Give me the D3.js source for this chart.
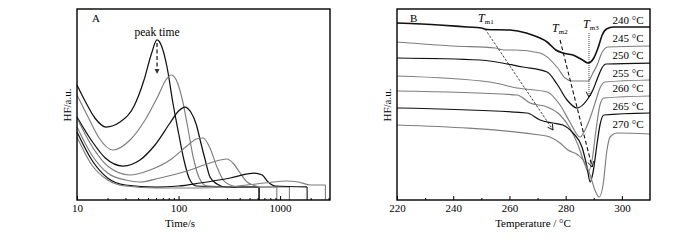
<!DOCTYPE html>
<html>
<head>
<meta charset="utf-8">
<script src="https://cdn.jsdelivr.net/npm/d3@7"></script>
<style>
  body { margin: 0; background: #fff; }
  text { font-family: "Liberation Serif", "Times New Roman", serif; fill: #000; }
</style>
</head>
<body>
<div id="chart"></div>
<script>
// ---- panel A: isothermal heat flow vs time (log scale), one curve per Tc
var curveA1 = [[10,115],[12,99],[15,82],[19.3,73],[26.5,78],[36.5,94],[45.7,120],[54,146],[61.4,160],[68,154],[77,133],[88,97],[100,67],[113,40],[128,21],[150,14],[621,13]]
var curveA2 = [[10,105],[13,82],[16.5,62],[22.6,50],[33.3,60],[46.8,80],[62.8,104],[75,120],[84.5,125],[95,120],[108,102],[122,75],[140,42],[160,22],[190,14],[621,13]]
var curveA3 = [[10,83],[14,59],[19,42],[28.4,34],[41.7,40],[58.6,55],[82.4,77],[100,89],[115.5,93],[132,88],[150,75],[165,58],[183,40],[204,23],[239,16],[290,13],[621,13]]
var curveA4 = [[10,82],[14,54],[20,34],[33,25],[52.4,30],[82.4,40],[121,54],[150,61],[174,62],[204,52],[239,33],[275,20],[322,15],[400,13],[928,13]]
var curveA5 = [[10,73],[14,45],[20,27],[30,20],[41.7,18],[65.8,22],[130,30],[204,37],[300,41],[343,37],[404,27],[473,18],[541,15],[650,13],[1235,13]]
var curveA6 = [[10,68],[14,40],[20,22],[30,15],[60,13],[100,14],[163,17],[323,22],[554,27],[666,25],[763,18],[891,14],[1845,13]]
var curveA7 = [[10,63],[14,35],[20,20],[30,14],[60,12],[150,12],[300,13],[700,17],[1170,19],[1500,18],[2000,15],[2794,15]]
var colorsA = ['black', 'gray', 'black', 'gray', 'gray', 'black', 'gray']
var timeTicks = [10, 100, 1000]
var timeMinor = [20,30,40,50,60,70,80,90,200,300,400,500,600,700,800,900,2000,3000]
var peakTime = 61.4

// ---- panel B: melting curves after crystallization at Tc
var tcLabels = ['240 °C', '245 °C', '250 °C', '255 °C', '260 °C', '265 °C', '270 °C']
var curveB240 = [[220,177],[235,175],[245,173],[250,172],[252,170.5],[260,170],[266,167],[270,163],[273.4,158],[276.5,150],[279,147],[282.6,145],[286,140],[288,137],[290,142],[291.5,152],[293,165],[294.5,171],[297,173],[310,173]]
var curveB245 = [[220,158],[240,154],[255,152],[258,150],[262,150],[270.9,147],[276.9,133],[279.8,122],[282.3,119],[288,119],[289.7,127],[291.5,137],[292.5,145],[293.5,150],[295,153],[310,154]]
var curveB250 = [[220,142],[249.5,140],[264.8,133],[273.4,128],[276.9,116],[280.5,100],[284,92],[287.6,100],[289.7,110],[291.5,123],[292.9,132],[294.4,136],[310,137]]
var curveB255 = [[220,124],[253,118],[262.7,112],[273.4,108],[278,95],[281.5,78],[285.1,63],[286.9,70],[288.7,82],[290.8,100],[292.2,112],[294,118],[310,120]]
var curveB260 = [[220,109],[262.7,105],[267.3,97],[273.4,93],[278,85],[281.5,72],[284.4,55],[286.9,35],[288,28],[289.4,40],[290.8,70],[292.2,95],[293.6,102],[310,104]]
var curveB265 = [[220,92],[266.2,87],[270.9,80],[275.5,77],[279,75],[282.6,67],[285.8,53],[287.6,33],[288.7,18],[289.7,27],[291.2,57],[292.2,75],[293.6,85],[310,87]]
var curveB270 = [[220,75],[270.9,65],[274.4,63],[278,57],[280.8,50],[284.4,45],[286.2,40],[288.7,25],[290.4,10],[291.9,3],[293.3,15],[294.7,50],[295.8,63],[298.3,67],[310,66]]
var colorsB = ['black', 'gray', 'black', 'gray', 'gray', 'black', 'gray']
var labelY = [180, 162, 145, 127, 112, 94, 76]
var tempTicks = [220, 240, 260, 280, 300]
var tempMinor = [230, 250, 270, 290]
// marker lines [T, HF] start -> end
var tm1 = [[251.3,171],[275.5,70]]
var tm2 = [[278,160],[289.4,33]]
var tm3 = [[288.3,167],[288.3,103]]

var gray = '#7d7d7d'
var width = 700, height = 240

var svg = d3.select('#chart').append('svg')
  .attr('width', width).attr('height', height)

var xA = d3.scaleLog().domain([10, 3100]).range([77, 330])
var xB = d3.scaleLinear().domain([220, 310]).range([397, 650])
var y = d3.scaleLinear().domain([0, 191]).range([200, 9])

function col(c) { return c == 'black' ? '#111' : gray }

// ---------- panel A
var gA = svg.append('g')
var lineA = d3.line().x(d => xA(d[0])).y(d => y(d[1])).curve(d3.curveMonotoneX)
var curvesA = [curveA1, curveA2, curveA3, curveA4, curveA5, curveA6, curveA7]
curvesA.forEach(function(c, i) {
  gA.append('path').datum(c)
    .attr('d', lineA)
    .attr('fill', 'none')
    .attr('stroke', col(colorsA[i]))
    .attr('stroke-width', colorsA[i] == 'black' ? 1.25 : 1.15)
  var last = c[c.length - 1]
  gA.append('line')
    .attr('x1', xA(last[0])).attr('x2', xA(last[0]))
    .attr('y1', y(last[1])).attr('y2', y(0))
    .attr('stroke', col(colorsA[i])).attr('stroke-width', 1.1)
})

gA.append('g').attr('transform', 'translate(0,200)')
  .call(d3.axisBottom(xA).tickValues(timeTicks).tickSize(-4).tickPadding(4).tickFormat(d3.format('d')))
  .call(g => g.select('.domain').remove())
  .selectAll('text').style('font-size', '11px').attr('font-family', null)
gA.append('g').attr('transform', 'translate(0,200)')
  .call(d3.axisBottom(xA).tickValues(timeMinor).tickSize(-2).tickFormat(''))
  .call(g => g.select('.domain').remove())

gA.append('rect').attr('x', 77).attr('y', 9).attr('width', 253).attr('height', 191)
  .attr('fill', 'none').attr('stroke', '#000').attr('stroke-width', 1.4)

gA.append('text').attr('x', 92).attr('y', 22).style('font-size', '11px').text('A')
gA.append('text').attr('x', xA(peakTime)).attr('y', 36).attr('text-anchor', 'middle')
  .style('font-size', '11.5px').text('peak time')
gA.append('line').attr('x1', xA(peakTime)).attr('x2', xA(peakTime))
  .attr('y1', y(157)).attr('y2', y(131))
  .attr('stroke', '#333').attr('stroke-width', 1.4).attr('stroke-dasharray', '4,2.5')
gA.append('path')
  .attr('d', 'M' + (xA(peakTime) - 2.5) + ',' + y(131) + 'l2.5,5l2.5,-5z')
  .attr('fill', '#333')

gA.append('text').attr('x', 75 + 210 / 2).attr('y', 227).attr('text-anchor', 'middle')
  .style('font-size', '11px').text('Time/s')
gA.append('text').attr('transform', 'translate(71,105) rotate(-90)').attr('text-anchor', 'middle')
  .style('font-size', '11px').text('HF/a.u.')

// ---------- panel B
var gB = svg.append('g')
var lineB = d3.line().x(d => xB(d[0])).y(d => y(d[1])).curve(d3.curveMonotoneX)
var curvesB = [curveB240, curveB245, curveB250, curveB255, curveB260, curveB265, curveB270]
curvesB.forEach(function(c, i) {
  gB.append('path').datum(c)
    .attr('d', lineB)
    .attr('fill', 'none')
    .attr('stroke', col(colorsB[i]))
    .attr('stroke-width', i == 0 ? 1.6 : (colorsB[i] == 'black' ? 1.25 : 1.15))
  gB.append('text').attr('x', 628).attr('y', y(labelY[i]) + 4)
    .attr('text-anchor', 'middle').style('font-size', '11px').text(tcLabels[i])
})

function arrowV(g, p0, p1, dash, w) {
  var x0 = xB(p0[0]), y0 = y(p0[1]), x1 = xB(p1[0]), y1 = y(p1[1])
  g.append('line').attr('x1', x0).attr('y1', y0).attr('x2', x1).attr('y2', y1)
    .attr('stroke', '#111').attr('stroke-width', w).attr('stroke-dasharray', dash)
  var a = Math.atan2(y1 - y0, x1 - x0), L = 6, s = 0.5
  g.append('path')
    .attr('d', 'M' + (x1 - L * Math.cos(a - s)) + ',' + (y1 - L * Math.sin(a - s)) +
      'L' + x1 + ',' + y1 + 'L' + (x1 - L * Math.cos(a + s)) + ',' + (y1 - L * Math.sin(a + s)))
    .attr('fill', 'none').attr('stroke', '#111').attr('stroke-width', 1)
}
arrowV(gB, tm1[0], tm1[1], '2.5,1.5', 0.8)
arrowV(gB, tm2[0], tm2[1], '4,2.5', 1.1)
arrowV(gB, tm3[0], tm3[1], '1,1', 0.8)

function tmLabel(xp, yp, sub) {
  var t = gB.append('text').attr('x', xp).attr('y', yp).style('font-size', '12px')
  t.append('tspan').style('font-style', 'italic').text('T')
  t.append('tspan').attr('dy', 2).style('font-size', '7px').text(sub)
}
tmLabel(478, 22, 'm1')
tmLabel(552, 32, 'm2')
tmLabel(583, 28, 'm3')

gB.append('g').attr('transform', 'translate(0,200)')
  .call(d3.axisBottom(xB).tickValues(tempTicks).tickSize(-4).tickPadding(4))
  .call(g => g.select('.domain').remove())
  .selectAll('text').style('font-size', '11px').attr('font-family', null)
gB.append('g').attr('transform', 'translate(0,200)')
  .call(d3.axisBottom(xB).tickValues(tempMinor).tickSize(-2).tickFormat(''))
  .call(g => g.select('.domain').remove())

gB.append('rect').attr('x', 397).attr('y', 9).attr('width', 253).attr('height', 191)
  .attr('fill', 'none').attr('stroke', '#000').attr('stroke-width', 1.4)

gB.append('text').attr('x', 410).attr('y', 22).style('font-size', '11px').text('B')
gB.append('text').attr('x', 533).attr('y', 227).attr('text-anchor', 'middle')
  .style('font-size', '11px').text('Temperature / °C')
gB.append('text').attr('transform', 'translate(391,105) rotate(-90)').attr('text-anchor', 'middle')
  .style('font-size', '11px').text('HF/a.u.')
</script>
</body>
</html>
